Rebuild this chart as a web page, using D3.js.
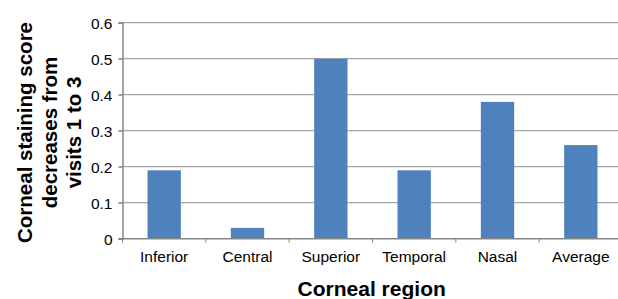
<!DOCTYPE html>
<html>
<head>
<meta charset="utf-8">
<script src="https://cdn.jsdelivr.net/npm/d3@7"></script>
<style>
  body { margin: 0; background: #fff; }
  svg { display: block; font-family: "Liberation Sans", Arial, sans-serif; }
</style>
</head>
<body>
<div id="chart"></div>
<script>
var regions = ['Inferior', 'Central', 'Superior', 'Temporal', 'Nasal', 'Average'];
var decreases = [0.19, 0.03, 0.50, 0.19, 0.38, 0.26];
var y_ticks = [0, 0.1, 0.2, 0.3, 0.4, 0.5, 0.6];
var y_title_lines = ['Corneal staining score', 'decreases from', 'visits 1 to 3'];
var x_title = 'Corneal region';

var width = 618, height = 299;
var plot_left = 122.5, plot_right = 622.5;
var plot_top = 22.7, plot_bottom = 238.7;

var svg = d3.select('#chart').append('svg')
  .attr('width', width)
  .attr('height', height);

var x = d3.scaleBand()
  .domain(regions)
  .range([plot_left, plot_right])
  .paddingInner(0.6)
  .paddingOuter(0.3);

var y = d3.scaleLinear()
  .domain([0, 0.6])
  .range([plot_bottom, plot_top]);

// gridlines
svg.append('g')
  .selectAll('line')
  .data(y_ticks.filter(function(d){ return d > 0; }))
  .enter()
  .append('line')
  .attr('x1', plot_left - 4)
  .attr('x2', width)
  .attr('y1', function(d){ return y(d); })
  .attr('y2', function(d){ return y(d); })
  .style('stroke', '#a6a6a6')
  .style('stroke-width', 1.2);

// bars
svg.append('g')
  .selectAll('rect')
  .data(decreases)
  .enter()
  .append('rect')
  .attr('x', function(d, i){ return x(regions[i]); })
  .attr('width', x.bandwidth())
  .attr('y', function(d){ return y(d); })
  .attr('height', function(d){ return y(0) - y(d); })
  .style('fill', '#4f81bd');

// y axis
var y_axis = svg.append('g')
  .attr('transform', 'translate(' + plot_left + ',0)')
  .call(d3.axisLeft(y).tickValues(y_ticks).tickSize(4).tickPadding(6)
    .tickFormat(function(d){ return d === 0 ? '0' : d3.format('.1f')(d); }));
y_axis.select('.domain').style('stroke', '#868686').style('stroke-width', 1.5);
y_axis.selectAll('.tick line').style('stroke', '#868686');
y_axis.selectAll('.tick text')
  .style('font-size', '15.5px')
  .style('fill', '#000')
  .style('font-family', '"Liberation Sans", Arial, sans-serif')
  .attr('dy', '0.4em');

// x axis with ticks at band boundaries
var x_axis = svg.append('g')
  .attr('transform', 'translate(0,' + plot_bottom + ')');
x_axis.append('line')
  .attr('x1', plot_left - 4)
  .attr('x2', width)
  .style('stroke', '#868686')
  .style('stroke-width', 1.5);

var step = x.step();
var boundaries = regions.map(function(r){ return x(r) - x.paddingOuter() * step; });
x_axis.selectAll('.xtick')
  .data(boundaries)
  .enter()
  .append('line')
  .attr('x1', function(d){ return d; })
  .attr('x2', function(d){ return d; })
  .attr('y1', 0)
  .attr('y2', 4)
  .style('stroke', '#868686');

x_axis.selectAll('.xlabel')
  .data(regions)
  .enter()
  .append('text')
  .attr('x', function(d){ return x(d) + x.bandwidth() / 2; })
  .attr('y', 23)
  .attr('text-anchor', 'middle')
  .style('font-size', '15.5px')
  .text(function(d){ return d; });

// axis titles
svg.append('text')
  .attr('x', 371.7)
  .attr('y', 296)
  .attr('text-anchor', 'middle')
  .style('font-size', '21px')
  .style('font-weight', 'bold')
  .text(x_title);

var y_title = svg.append('text')
  .attr('transform', 'translate(32,132.5) rotate(-90)')
  .attr('text-anchor', 'middle')
  .style('font-size', '20.5px')
  .style('font-weight', 'bold');
y_title.selectAll('tspan')
  .data(y_title_lines)
  .enter()
  .append('tspan')
  .attr('x', 0)
  .attr('y', function(d, i){ return i * 24.7; })
  .text(function(d){ return d; });
</script>
</body>
</html>
